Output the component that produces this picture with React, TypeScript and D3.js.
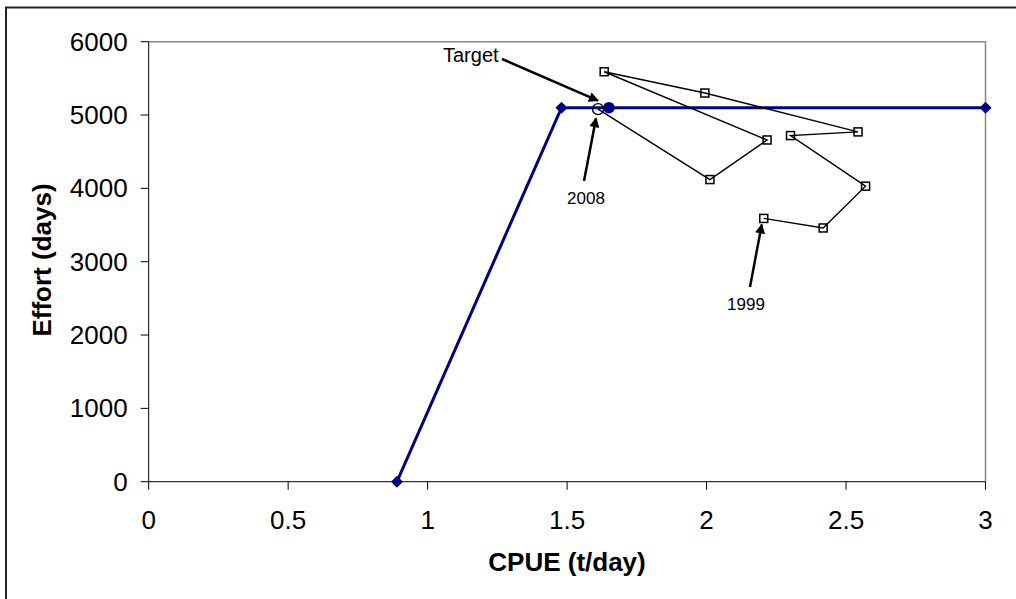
import React from 'react';
import * as d3 from 'd3';

// harvest control rule (blue line)
const ruleCpue = [0.89, 1.48, 3];
const ruleEffort = [0, 5100, 5100];
const target = { cpue: 1.65, effort: 5100 };

// observed trajectory, 1999 to 2008
const years = [1999, 2000, 2001, 2002, 2003, 2004, 2005, 2006, 2007, 2008];
const obsCpue = [2.205, 2.418, 2.57, 2.301, 2.543, 1.994, 1.633, 2.217, 2.012, 1.611];
const obsEffort = [3590, 3460, 4030, 4720, 4770, 5300, 5590, 4660, 4120, 5080];

const xTicks = [0, 0.5, 1, 1.5, 2, 2.5, 3];
const yTicks = [0, 1000, 2000, 3000, 4000, 5000, 6000];

const W = 1016;
const H = 599;
const font = 'Arial, "Liberation Sans", sans-serif';

const App: React.FC = () => {
  const x = d3.scaleLinear().domain([0, 3]).range([148.7, 985.5]);
  const y = d3.scaleLinear().domain([0, 6000]).range([481.7, 41.7]);

  const ruleLine = d3.line<number>()
    .x((d) => x(ruleCpue[d]))
    .y((d) => y(ruleEffort[d]));
  const obsLine = d3.line<number>()
    .x((d) => x(obsCpue[d]))
    .y((d) => y(obsEffort[d]));

  const diamond = d3.symbol(d3.symbolSquare, 72)() ?? '';

  const last = years.length - 1;
  const p2008 = { x: x(obsCpue[last]), y: y(obsEffort[last]) };
  const p1999 = { x: x(obsCpue[0]), y: y(obsEffort[0]) };
  const pTarget = { x: x(target.cpue), y: y(target.effort) };

  return (
    <svg width={W} height={H} style={{ position: 'absolute', left: 0, top: 0, background: '#fff' }} fontFamily={font}>
      <defs>
        <marker id="arrow" viewBox="0 0 10 10" refX="9" refY="5" markerWidth="4.5" markerHeight="4" orient="auto">
          <path d="M0,0 L10,5 L0,10 z" fill="#000" />
        </marker>
      </defs>
      {/* outer frame (only left and top are visible) */}
      <path d={`M6,${H} V7.5 H${W}`} fill="none" stroke="#222" strokeWidth={2} />

      {/* plot area border */}
      <path d={`M${x(0)},${y(6000)} H${x(3)} V${y(0)}`} fill="none" stroke="#888" strokeWidth={1.5} />

      {/* y axis */}
      <line x1={x(0)} x2={x(0)} y1={y(0)} y2={y(6000)} stroke="#000" strokeWidth={1} />
      {yTicks.map((t) => (
        <g key={`y${t}`}>
          <line x1={x(0) - 8} x2={x(0)} y1={y(t)} y2={y(t)} stroke="#000" />
          <text x={x(0) - 21} y={y(t)} dy="0.35em" textAnchor="end" fontSize={26}>{t}</text>
        </g>
      ))}
      {/* x axis */}
      <line x1={x(0)} x2={x(3)} y1={y(0)} y2={y(0)} stroke="#000" strokeWidth={1} />
      {xTicks.map((t) => (
        <g key={`x${t}`}>
          <line x1={x(t)} x2={x(t)} y1={y(0)} y2={y(0) + 8} stroke="#000" />
          <text x={x(t)} y={y(0) + 38} dy="0.35em" textAnchor="middle" fontSize={26}>{t}</text>
        </g>
      ))}

      <text x={567} y={562} dy="0.35em" textAnchor="middle" fontSize={26} fontWeight="bold">CPUE (t/day)</text>
      <text transform={`translate(42,260) rotate(-90)`} dy="0.35em" textAnchor="middle" fontSize={26} fontWeight="bold">Effort (days)</text>

      {/* control rule */}
      <path d={ruleLine(d3.range(ruleCpue.length)) ?? ''} fill="none" stroke="#000080" strokeWidth={3} />
      {ruleCpue.map((c, i) => (
        <path key={`d${i}`} d={diamond} transform={`translate(${x(c)},${y(ruleEffort[i])}) rotate(45)`} fill="#000080" />
      ))}
      <circle cx={pTarget.x} cy={pTarget.y} r={5.8} fill="#000080" />

      {/* observed */}
      <path d={obsLine(d3.range(years.length)) ?? ''} fill="none" stroke="#000" strokeWidth={1.4} />
      {years.slice(0, last).map((yr, i) => (
        <rect key={yr} x={x(obsCpue[i]) - 4} y={y(obsEffort[i]) - 4} width={8} height={8} fill="none" stroke="#000" strokeWidth={1.5} />
      ))}
      <circle cx={p2008.x} cy={p2008.y} r={5.5} fill="none" stroke="#000" strokeWidth={1.4} />

      {/* annotations */}
      <text x={443} y={55} dy="0.35em" fontSize={20}>Target</text>
      <line x1={502} y1={59} x2={pTarget.x - 11} y2={pTarget.y - 7} stroke="#000" strokeWidth={2.5} markerEnd="url(#arrow)" />

      <text x={586} y={198} dy="0.35em" textAnchor="middle" fontSize={17}>2008</text>
      <line x1={584} y1={181} x2={p2008.x - 2} y2={p2008.y + 9} stroke="#000" strokeWidth={2.5} markerEnd="url(#arrow)" />

      <text x={746} y={304} dy="0.35em" textAnchor="middle" fontSize={17}>1999</text>
      <line x1={750} y1={287} x2={p1999.x - 2} y2={p1999.y + 6} stroke="#000" strokeWidth={2.5} markerEnd="url(#arrow)" />
    </svg>
  );
};

export default App;
